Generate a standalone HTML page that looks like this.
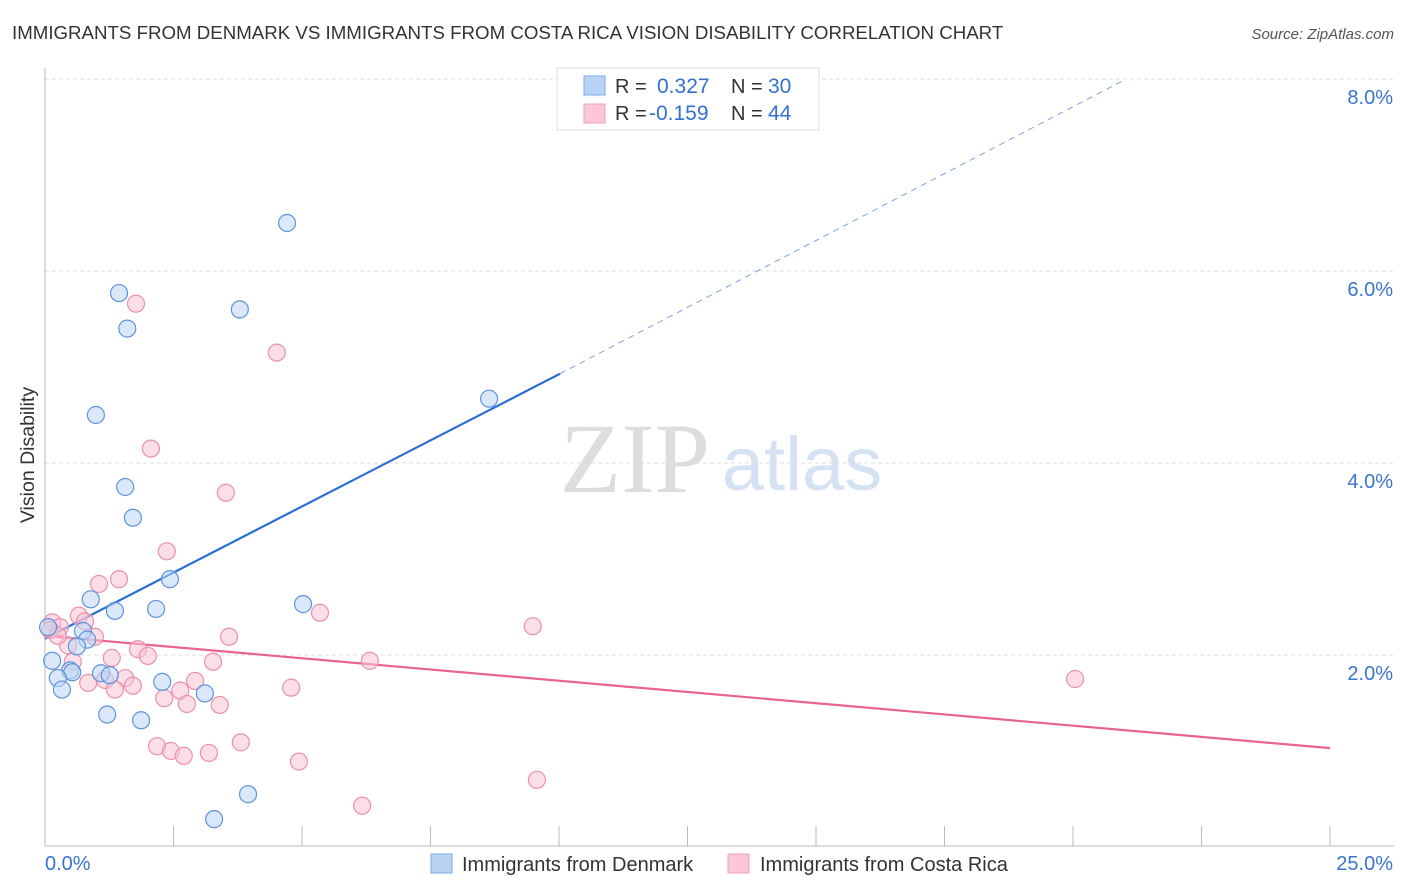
<!DOCTYPE html>
<html><head><meta charset="utf-8"><style>
body{margin:0;background:#fff;font-family:"Liberation Sans",sans-serif;}
svg{display:block}
</style></head><body>
<svg id="chart" width="1406" height="892" xmlns="http://www.w3.org/2000/svg">
<text x="12" y="39" font-size="18.7" fill="#333">IMMIGRANTS FROM DENMARK VS IMMIGRANTS FROM COSTA RICA VISION DISABILITY CORRELATION CHART</text>
<text x="1394" y="39" font-size="15" fill="#555" font-style="italic" text-anchor="end">Source: ZipAtlas.com</text>
<text x="34" y="455" font-size="19.5" fill="#333" text-anchor="middle" transform="rotate(-90 34 455)">Vision Disability</text>
<g><text x="635" y="492" font-size="100" font-family="Liberation Serif,serif" fill="#ddd" text-anchor="middle">ZIP</text><text x="802" y="490" font-size="76" fill="#d4e2f4" text-anchor="middle">atlas</text></g>
<g id="grid"></g><g id="axes"></g><g id="lines"></g><g id="pts"></g>
<g>
<rect x="557" y="68" width="262" height="62" fill="#fff" stroke="#ddd"/>
<rect x="584" y="76" width="21" height="19" fill="#b9d3f5" stroke="#7aa8e8"/>
<rect x="584" y="104" width="21" height="19" fill="#fbc7d6" stroke="#eea3ba"/>
<text x="615" y="93" font-size="20" fill="#333">R = </text><text x="657" y="93" font-size="21" fill="#3370d0">0.327</text>
<text x="731" y="93" font-size="20" fill="#333">N = </text><text x="768" y="93" font-size="21" fill="#3370d0">30</text>
<text x="615" y="120" font-size="20" fill="#333">R = </text><text x="649" y="120" font-size="21" fill="#3370d0">-0.159</text>
<text x="731" y="120" font-size="20" fill="#333">N = </text><text x="768" y="120" font-size="21" fill="#3370d0">44</text>
</g>
<g>
<rect x="431" y="854" width="21" height="19" fill="#b9d3f5" stroke="#7aa8e8"/>
<text x="462" y="871" font-size="20" fill="#333">Immigrants from Denmark</text>
<rect x="728" y="854" width="21" height="19" fill="#fbc7d6" stroke="#eea3ba"/>
<text x="760" y="871" font-size="20" fill="#333">Immigrants from Costa Rica</text>
</g>
</svg>
<script>
const yTicks=[2,4,6,8];
const xTickCount=10;
const blueX=[4.71,1.44,1.60,3.79,0.99,8.64,1.56,1.71,2.43,0.89,1.36,2.16,5.02,0.74,0.82,0.62,0.14,0.49,0.53,1.09,1.26,0.25,0.33,2.28,3.11,1.21,1.87,3.95,3.29,0.06];
const blueY=[6.50,5.77,5.40,5.60,4.50,4.67,3.75,3.43,2.79,2.58,2.46,2.48,2.53,2.25,2.16,2.09,1.94,1.84,1.82,1.81,1.79,1.76,1.64,1.72,1.60,1.38,1.32,0.55,0.29,2.29];
const pinkX=[1.77,4.51,2.06,3.52,2.37,1.44,1.05,5.35,9.49,0.66,0.78,0.14,0.29,0.97,3.58,0.45,1.81,2.0,1.30,3.27,6.32,0.54,0.84,1.17,1.56,1.71,1.36,2.92,2.63,4.79,20.04,2.32,2.76,3.40,2.18,2.45,2.70,3.19,3.81,4.94,9.57,6.17,0.1,0.25];
const pinkY=[5.66,5.15,4.15,3.69,3.08,2.79,2.74,2.44,2.30,2.41,2.35,2.34,2.29,2.19,2.19,2.10,2.06,1.99,1.97,1.93,1.94,1.93,1.71,1.74,1.76,1.68,1.64,1.73,1.63,1.66,1.75,1.55,1.49,1.48,1.05,1.0,0.95,0.98,1.09,0.89,0.70,0.43,2.26,2.20];
const blueTrend=[[0,2.17],[10.02,4.93],[21.0,7.99]];
const pinkTrend=[[0,2.20],[25,1.03]];
const X0=45,X1=1330,Y0=847,PX=96;
const sx=v=>X0+(X1-X0)*v/25, sy=v=>Y0-PX*v;
const NS="http://www.w3.org/2000/svg";
function mk(t,a,p){const e=document.createElementNS(NS,t);for(const k in a)e.setAttribute(k,a[k]);p.appendChild(e);return e;}
const grid=document.getElementById('grid'),axes=document.getElementById('axes'),lines=document.getElementById('lines'),pts=document.getElementById('pts');
yTicks.forEach(v=>{
 const l=mk('line',{x1:X0,x2:1394,y1:sy(v),y2:sy(v),stroke:'#ddd','stroke-dasharray':'4,3'},grid);
 
 
 const t=mk('text',{x:1393,y:sy(v)+25,'font-size':20,fill:'#3a74d0','text-anchor':'end'},axes);
 t.textContent=v.toFixed(1)+'%';
 
 
});
const ya=mk('line',{x1:X0,x2:X0,y1:68,y2:846,stroke:'#bbb'},axes);


const xa=mk('line',{x1:X0,x2:1394,y1:846,y2:846,stroke:'#bbb'},axes);


for(let i=1;i<=xTickCount;i++){
 const x=sx(25*i/xTickCount);
 const tk=mk('line',{x1:x,x2:x,y1:826,y2:846,stroke:'#bbb'},axes);
 
 
}
const xl=mk('text',{x:45,y:870,'font-size':20,fill:'#3a74d0'},axes);xl.textContent='0.0%';


const xr=mk('text',{x:1393,y:870,'font-size':20,fill:'#3a74d0','text-anchor':'end'},axes);xr.textContent='25.0%';


function circles(xs,ys,fill,stroke,name){xs.forEach((v,i)=>{
 const c=mk('circle',{cx:sx(v),cy:sy(ys[i]),r:8.5,fill:fill,'fill-opacity':0.55,stroke:stroke,'stroke-width':1.2},pts);
 
 
});}
circles(pinkX,pinkY,'#f9c3d3','#eb90ad','point-costa-rica');
circles(blueX,blueY,'#bcd5f5','#5f93dd','point-denmark');
const b1=mk('line',{x1:sx(blueTrend[0][0]),y1:sy(blueTrend[0][1]),x2:sx(blueTrend[1][0]),y2:sy(blueTrend[1][1]),stroke:'#2a6fd6','stroke-width':2.2},lines);


const b2=mk('line',{x1:sx(blueTrend[1][0]),y1:sy(blueTrend[1][1]),x2:sx(blueTrend[2][0]),y2:sy(blueTrend[2][1]),stroke:'#7aa3e0','stroke-width':1,'stroke-dasharray':'6,5'},lines);


const p1=mk('line',{x1:sx(pinkTrend[0][0]),y1:sy(pinkTrend[0][1]),x2:sx(pinkTrend[1][0]),y2:sy(pinkTrend[1][1]),stroke:'#e8648f','stroke-width':2.2},lines);


</script>
</body></html>
